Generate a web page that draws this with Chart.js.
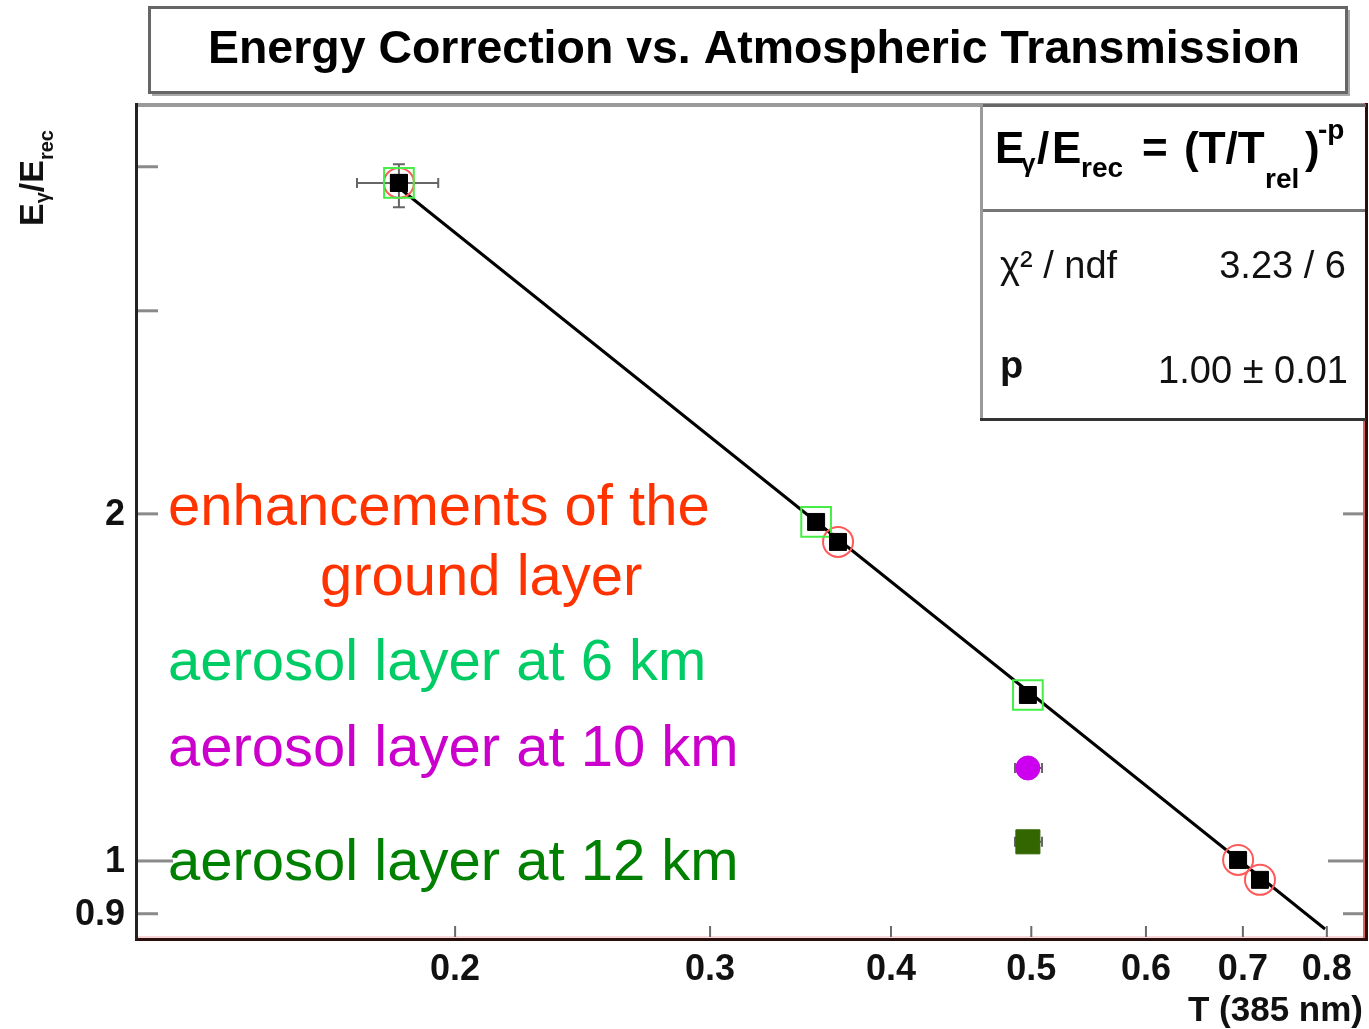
<!DOCTYPE html>
<html><head><meta charset="utf-8">
<script src="https://cdn.jsdelivr.net/npm/chart.js@4.4.1/dist/chart.umd.min.js"></script>
<style>html,body{margin:0;padding:0;background:#fff;}#wrap{width:1369px;height:1029px;position:relative;}</style>
</head><body><div id="wrap"><canvas id="c" width="1369" height="1029"></canvas></div>
<script>
// ---- chart text ----
const chartTitle = 'Energy Correction vs. Atmospheric Transmission';
const xAxisTitle = 'T (385 nm)';
const xTickValues = [0.2, 0.3, 0.4, 0.5, 0.6, 0.7, 0.8];
const xTickLabels = ['0.2', '0.3', '0.4', '0.5', '0.6', '0.7', '0.8'];
const yTickValues = [0.9, 1, 2, 3, 4];
const yTickLabels = ['0.9', '1', '2', '', ''];
const yMajorTicks = [1];
const xRange = [0.1204, 0.8514];
const yRange = [0.854, 4.525];

// ---- data (T, E_gamma/E_rec) ----
const groundT = [0.1829, 0.3677, 0.6947, 0.7193];
const groundE = [3.873, 1.891, 1.002, 0.963];
const km6T = [0.1829, 0.3551, 0.4973];
const km6E = [3.873, 1.968, 1.393];
const km10T = [0.4973];
const km10E = [1.204];
const km12T = [0.4973];
const km12E = [1.039];
const fitT = [0.1829, 0.7977];
const fitE = [3.836, 0.873];
// error bars
const errT = [0.1829, 0.4973, 0.4973];
const errE = [3.873, 1.204, 1.039];
const errTlo = [0.1711, 0.4872, 0.4872];
const errThi = [0.1947, 0.5086, 0.5086];
const errElo = [3.69, 1.204, 1.039];
const errEhi = [4.02, 1.204, 1.039];
// fit box
const chi2Label = 'χ² / ndf';
const chi2Value = '3.23 / 6';
const pLabel = 'p';
const pValue = '1.00 ± 0.01';
// annotations
const annotationTexts = ['enhancements of the', 'ground layer', 'aerosol layer at 6 km', 'aerosol layer at 10 km', 'aerosol layer at 12 km'];
const annotationColors = ['#ff3300', '#ff3300', '#00cc66', '#cc00cc', '#008000'];

const F = "'Liberation Sans', Arial, Helvetica, sans-serif";
const pts = (xs, ys) => xs.map((x, i) => ({x: x, y: ys[i]}));

const deco = {
  id: 'deco',
  beforeDraw(chart) {
    const ctx = chart.ctx;
    ctx.save(); ctx.fillStyle = '#fff'; ctx.fillRect(0, 0, chart.width, chart.height); ctx.restore();
  },
  beforeDatasetsDraw(chart) {
    const ctx = chart.ctx, xs = chart.scales.x, ys = chart.scales.y;
    ctx.save();
    ctx.strokeStyle = '#666'; ctx.lineWidth = 2;
    for (let i = 0; i < errT.length; i++) {
      const px = xs.getPixelForValue(errT[i]), py = ys.getPixelForValue(errE[i]);
      const x1 = xs.getPixelForValue(errTlo[i]), x2 = xs.getPixelForValue(errThi[i]);
      const y1 = ys.getPixelForValue(errElo[i]), y2 = ys.getPixelForValue(errEhi[i]);
      ctx.beginPath();
      ctx.moveTo(x1, py); ctx.lineTo(x2, py);
      ctx.moveTo(x1, py - 5); ctx.lineTo(x1, py + 5);
      ctx.moveTo(x2, py - 5); ctx.lineTo(x2, py + 5);
      if (Math.abs(y1 - y2) > 1) {
        ctx.moveTo(px, y1); ctx.lineTo(px, y2);
        ctx.moveTo(px - 6, y1); ctx.lineTo(px + 6, y1);
        ctx.moveTo(px - 6, y2); ctx.lineTo(px + 6, y2);
      }
      ctx.stroke();
    }
    ctx.restore();
  },
  afterDraw(chart) {
    const ctx = chart.ctx, xs = chart.scales.x, ys = chart.scales.y, ca = chart.chartArea;
    ctx.save();
    // frame
    ctx.fillStyle = '#9a9a9a'; ctx.fillRect(ca.left, ca.top - 2, ca.right - ca.left, 4);
    ctx.fillStyle = '#f6d6d6'; ctx.fillRect(ca.left, ca.bottom - 4, ca.right - ca.left, 2);
    ctx.fillStyle = '#2a0e0e'; ctx.fillRect(ca.left - 1, ca.bottom - 2, ca.right - ca.left + 3, 3);
    ctx.fillStyle = '#e06060'; ctx.fillRect(ca.right - 3, ca.top - 2, 2, ca.bottom - ca.top);
    ctx.fillStyle = '#2a0e0e'; ctx.fillRect(ca.right - 1, ca.top - 2, 3, ca.bottom - ca.top + 1);
    ctx.fillStyle = '#222'; ctx.fillRect(ca.left - 1, ca.top - 2, 3, ca.bottom - ca.top + 2);
    // y ticks
    ctx.fillStyle = '#8a8a8a';
    yTickValues.forEach(v => {
      const py = ys.getPixelForValue(v);
      const len = yMajorTicks.includes(v) ? 35 : 20;
      ctx.fillRect(ca.left + 2, py - 1.5, len, 3);
      ctx.fillRect(ca.right - 3 - len, py - 1.5, len, 3);
    });
    // x ticks
    ctx.fillStyle = '#6a6a6a';
    xTickValues.forEach(v => {
      const px = xs.getPixelForValue(v);
      ctx.fillRect(px - 1, ca.bottom - 14, 2, 11);
    });
    // tick labels
    ctx.fillStyle = '#111';
    ctx.font = `bold 36px ${F}`;
    ctx.textAlign = 'right'; ctx.textBaseline = 'middle';
    yTickValues.forEach((v, i) => {
      if (!yTickLabels[i]) return;
      ctx.fillText(yTickLabels[i], 125, ys.getPixelForValue(v) + 1);
    });
    ctx.textAlign = 'center'; ctx.textBaseline = 'alphabetic';
    xTickValues.forEach((v, i) => ctx.fillText(xTickLabels[i], xs.getPixelForValue(v), 980));
    ctx.textAlign = 'right';
    ctx.font = `bold 35px ${F}`;
    ctx.fillText(xAxisTitle, 1363, 1021);
    // y axis title (rotated)
    ctx.save();
    ctx.translate(43, 226); ctx.rotate(-Math.PI / 2);
    ctx.textAlign = 'left';
    let x = 0;
    const piece = (s, font, dy) => { ctx.font = font; ctx.fillText(s, x, dy); x += ctx.measureText(s).width; };
    piece('E', `bold 34px ${F}`, 0);
    piece('γ', `bold 20px ${F}`, 6);
    piece('/', `bold 34px ${F}`, 0);
    piece('E', `bold 34px ${F}`, 0);
    piece('rec', `bold 20px ${F}`, 10);
    ctx.restore();
    // annotations
    ctx.textAlign = 'left';
    ctx.font = `58px ${F}`;
    const annX = [168, 320, 168, 168, 168];
    const annY = [525, 595, 680, 766, 880];
    annotationTexts.forEach((s, i) => { ctx.fillStyle = annotationColors[i]; ctx.fillText(s, annX[i], annY[i]); });
    // stats box
    ctx.fillStyle = '#fff'; ctx.fillRect(981, 106, ca.right - 982, 313);
    ctx.fillStyle = '#666'; ctx.fillRect(980, 104, ca.right - 980, 3);
    ctx.fillStyle = '#9a9a9a'; ctx.fillRect(980, 104, 3, 317);
    ctx.fillStyle = '#333'; ctx.fillRect(980, 418, ca.right - 980, 3);
    ctx.fillStyle = '#777'; ctx.fillRect(983, 209, ca.right - 984, 3);
    ctx.fillStyle = '#000';
    const at = (s, font, px, py) => { ctx.font = font; ctx.fillText(s, px, py); };
    const B = `bold 44px ${F}`, S = `bold 28px ${F}`;
    at('E', B, 995, 163);
    at('γ', `bold 26px ${F}`, 1021, 172);
    at('/', B, 1037, 163);
    at('E', B, 1052, 163);
    at('rec', S, 1081, 177);
    at('=', B, 1142, 163);
    at('(T/T', B, 1184, 163);
    at('rel', S, 1265, 188);
    at(')', B, 1305, 163);
    at('-p', S, 1318, 139);
    ctx.fillStyle = '#111';
    at(chi2Label, `38px ${F}`, 1000, 278);
    at(pLabel, `bold 38px ${F}`, 1000, 378);
    ctx.textAlign = 'right';
    at(chi2Value, `38px ${F}`, 1346, 278);
    at(pValue, `38px ${F}`, 1348, 383);
    // title box
    ctx.textAlign = 'center';
    ctx.fillStyle = '#fff'; ctx.fillRect(150, 8, 1198, 85);
    ctx.fillStyle = '#a8a8a8'; ctx.fillRect(152, 92, 1198, 4); ctx.fillRect(1347, 10, 3, 86);
    ctx.strokeStyle = '#666'; ctx.lineWidth = 3; ctx.strokeRect(149.5, 7.5, 1197, 85);
    ctx.fillStyle = '#000';
    ctx.font = `bold 47px ${F}`;
    const w = ctx.measureText(chartTitle).width;
    ctx.save(); ctx.translate(754, 63); ctx.scale(1092 / w, 1); ctx.fillText(chartTitle, 0, 0); ctx.restore();
    ctx.restore();
  }
};

new Chart(document.getElementById('c'), {
  type: 'scatter',
  data: {
    datasets: [
      { data: pts(fitT, fitE), showLine: true, borderColor: '#000', borderWidth: 3, pointRadius: 0, order: 10 },
      { data: pts(groundT, groundE), pointStyle: 'circle', pointRadius: 15, borderColor: '#ff5a5a', backgroundColor: 'rgba(0,0,0,0)', pointBorderWidth: 2, order: 8 },
      { data: pts(km6T, km6E), pointStyle: 'rect', pointRadius: 21, borderColor: '#44ee44', backgroundColor: 'rgba(0,0,0,0)', pointBorderWidth: 2, order: 7 },
      { data: pts(groundT.concat(km6T), groundE.concat(km6E)), pointStyle: 'rect', pointRadius: 12, borderColor: '#000', backgroundColor: '#000', pointBorderWidth: 1, order: 1 },
      { data: pts(km10T, km10E), pointStyle: 'circle', pointRadius: 12, borderColor: '#cc00ee', backgroundColor: '#cc00ee', pointBorderWidth: 1, order: 2 },
      { data: pts(km12T, km12E), pointStyle: 'rect', pointRadius: 17, borderColor: '#336600', backgroundColor: '#336600', pointBorderWidth: 1, order: 2 }
    ]
  },
  options: {
    responsive: false, animation: false, devicePixelRatio: 1,
    layout: { autoPadding: false, padding: { left: 136, top: 105, right: 3, bottom: 89 } },
    plugins: { legend: { display: false }, tooltip: { enabled: false }, title: { display: false } },
    events: [],
    scales: {
      x: { type: 'logarithmic', min: xRange[0], max: xRange[1], display: false, bounds: 'data' },
      y: { type: 'logarithmic', min: yRange[0], max: yRange[1], display: false, bounds: 'data' }
    }
  },
  plugins: [deco]
});
</script></body></html>
